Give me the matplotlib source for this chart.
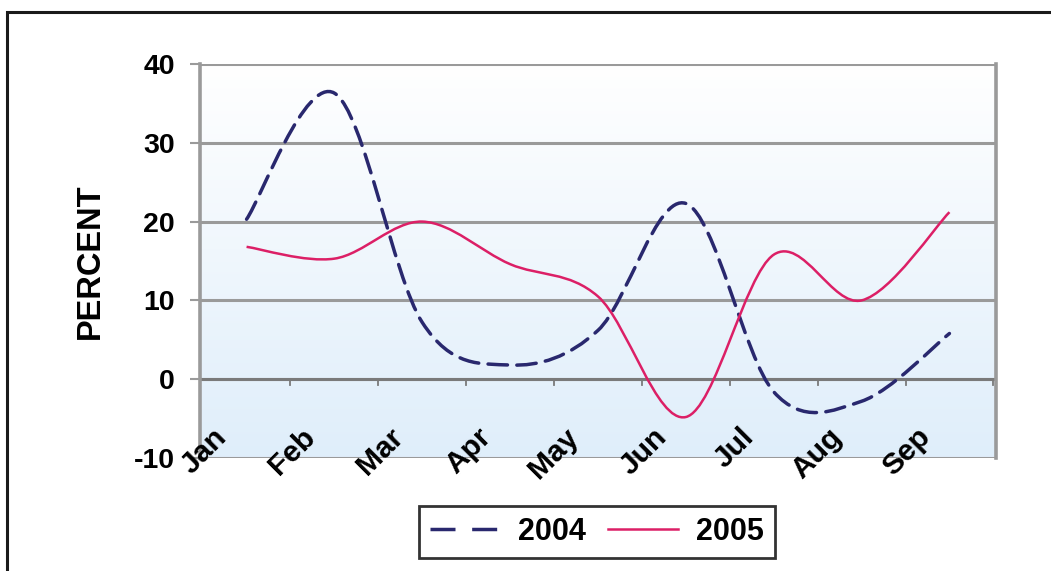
import numpy as np
import matplotlib
matplotlib.use("Agg")
import matplotlib.pyplot as plt
from matplotlib.path import Path
from matplotlib.patches import PathPatch, Rectangle
from matplotlib.lines import Line2D

months = ["Jan", "Feb", "Mar", "Apr", "May", "Jun", "Jul", "Aug", "Sep"]
pct_2004 = [20.3, 36.3, 7.2, 1.8, 6.2, 22.3, -1.6, -2.8, 5.8]
pct_2005 = [16.8, 15.3, 20.0, 14.6, 10.5, -4.8, 15.8, 10.0, 21.2]
y_ticks = [-10, 0, 10, 20, 30, 40]

FONT = "Liberation Sans"
C2004 = "#29286e"
C2005 = "#dc1f66"
GRID = "#9a9a9a"
DASH = (0, (5.6, 2.7))


def smooth_path(xs, ys):
    """Bezier path through the points (Catmull-Rom style control points)."""
    pts = np.column_stack([xs, ys]).astype(float)
    n = len(pts)
    verts = [pts[0]]
    codes = [Path.MOVETO]
    for i in range(n - 1):
        p0 = pts[i - 1] if i > 0 else pts[i]
        p1 = pts[i]
        p2 = pts[i + 1]
        p3 = pts[i + 2] if i + 2 < n else pts[i + 1]
        c1 = p1 + (p2 - p0) / 6.0
        c2 = p2 - (p3 - p1) / 6.0
        verts += [c1, c2, p2]
        codes += [Path.CURVE4] * 3
    return Path(verts, codes)


fig = plt.figure(figsize=(10.51, 5.71), dpi=100)
fig.patch.set_facecolor("white")

# outer frame
fig.add_artist(Rectangle((7 / 1051, -0.05), 1.2, 1 - 12 / 571 + 0.05,
                         transform=fig.transFigure, fill=False,
                         edgecolor="#1a1a1a", linewidth=2.2))

ax = fig.add_axes([200 / 1051, 1 - 458 / 571, 796 / 1051, (458 - 64) / 571])
n = len(months)
x0, x1 = -0.53, n - 1 + 0.53

# vertical gradient fill of the plot area: white at the top, pale blue below
t = np.linspace(0, 1, 256)[:, None]
top = np.array([1.0, 1.0, 1.0])
bot = np.array([0.875, 0.933, 0.982])
img = (top[None, None, :] + (bot - top)[None, None, :] * t[:, :, None])
img = np.repeat(img, 2, axis=1)
ax.imshow(img, extent=[x0, x1, -10, 40], origin="upper", aspect="auto",
          zorder=0, interpolation="bilinear")
ax.set_xlim(x0, x1)
ax.set_ylim(-10, 40)

for v in y_ticks:
    ax.axhline(v, color=GRID, linewidth=2.2, zorder=1)
ax.axhline(0, color="#7a7a7a", linewidth=2.2, zorder=1.5)
for i in range(n):
    ax.plot([i + 0.5, i + 0.5], [0, -0.75], color="#7a7a7a", lw=1.3, zorder=1.5)

for s in ["left", "right"]:
    ax.spines[s].set_color(GRID)
    ax.spines[s].set_linewidth(2.6)
for s in ["top", "bottom"]:
    ax.spines[s].set_visible(False)

ax.set_yticks(y_ticks)
ax.set_yticklabels([str(v) for v in y_ticks], fontsize=20.5,
                   fontweight="bold", family=FONT)
ax.tick_params(axis="y", length=7, width=1.5, color=GRID, pad=11)
ax.set_xticks([])

ax.set_ylabel("PERCENT", fontsize=23.5, fontweight="bold", family=FONT,
              labelpad=20)

xs = np.arange(n)
p04 = PathPatch(smooth_path(xs, pct_2004), fill=False, edgecolor=C2004,
                linewidth=2.5, linestyle=DASH, zorder=3, capstyle="round")
p05 = PathPatch(smooth_path(xs, pct_2005), fill=False, edgecolor=C2005,
                linewidth=1.8, zorder=3)
ax.add_patch(p04)
ax.add_patch(p05)

for i, m in enumerate(months):
    ax.text(i - 0.27, -6.8, m, rotation=45, ha="right", va="center",
            rotation_mode="anchor", fontsize=21.5, fontweight="bold",
            family=FONT, zorder=4)

handles = [Line2D([], [], color=C2004, lw=2.5, linestyle=(0, (7.2, 4.8))),
           Line2D([], [], color=C2005, lw=1.8)]
leg = fig.legend(handles, ["2004", "2005"], loc="center",
                 bbox_to_anchor=(597 / 1051, 1 - 532 / 571), ncol=2,
                 frameon=True, fancybox=False, shadow=False,
                 prop={"family": FONT, "weight": "bold", "size": 22},
                 handlelength=2.3, handletextpad=0.6, columnspacing=0.7,
                 borderpad=0.35, borderaxespad=0)
leg.get_frame().set_edgecolor("black")
leg.get_frame().set_linewidth(2.0)

fig.savefig("out.png", dpi=100, facecolor="white")
